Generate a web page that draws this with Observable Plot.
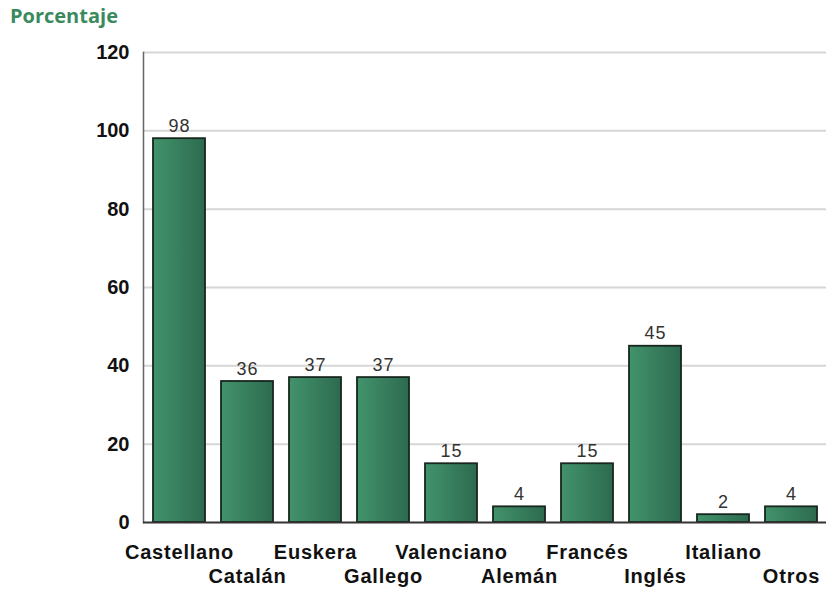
<!DOCTYPE html>
<html>
<head>
<meta charset="utf-8">
<script src="https://cdn.jsdelivr.net/npm/d3@7"></script>
<script src="https://cdn.jsdelivr.net/npm/@observablehq/plot@0.6"></script>
<style>
  body { margin: 0; background: #fff; }
  #title { font-family: "Open Sans", sans-serif; font-weight: 700; font-size: 20px; color: #3a8a5e; height: 32px; line-height: 32px; padding-left: 10px; }
  #chart svg g[aria-label="x-axis tick label"] text { letter-spacing: 0.8px; }
  #chart svg g.vals text { letter-spacing: 1px; }
</style>
</head>
<body>
<div id="title">Porcentaje</div>
<div id="chart"></div>
<script>
const languages = ["Castellano", "Catalán", "Euskera", "Gallego", "Valenciano", "Alemán", "Francés", "Inglés", "Italiano", "Otros"];
const percentages = [98, 36, 37, 37, 15, 4, 15, 45, 2, 4];
const yTicks = [0, 20, 40, 60, 80, 100, 120];

const data = languages.map((lang, i) => ({lang, value: percentages[i]}));
const firstRow = languages.filter((_, i) => i % 2 === 0);
const secondRow = languages.filter((_, i) => i % 2 === 1);

const labelFont = {fontSize: 20, fontWeight: "bold", fill: "#111"};

const plot = Plot.plot({
  width: 826,
  height: 560,
  marginTop: 20,
  marginBottom: 70,
  marginLeft: 143,
  marginRight: 0,
  style: {fontFamily: "'Liberation Sans', Arial, sans-serif", background: "#fff", overflow: "visible"},
  x: {domain: languages, paddingInner: 0.24, paddingOuter: 0.12, label: null},
  y: {domain: [0, 120], label: null},
  marks: [
    Plot.gridY(yTicks.slice(1), {stroke: "#d6d6d6", strokeOpacity: 1, strokeWidth: 2}),
    Plot.barY(data, {x: "lang", y: "value", fill: "url(#barGrad)", stroke: "#18261e", strokeWidth: 1.8}),
    Plot.text(data, {x: "lang", y: "value", text: d => String(d.value), dy: -7, lineAnchor: "bottom", fontSize: 18, fill: "#333", className: "vals"}),
    Plot.frame({anchor: "left", stroke: "#666", strokeWidth: 1.5}),
    Plot.ruleY([0], {stroke: "#333", strokeWidth: 2}),
    Plot.axisY(yTicks, {tickSize: 0, tickPadding: 14, fontSize: 20, fontWeight: "bold", fill: "#111", label: null}),
    Plot.axisX(firstRow, {tickSize: 0, tickPadding: 22, label: null, ...labelFont}),
    Plot.axisX(secondRow, {tickSize: 0, tickPadding: 46, label: null, ...labelFont})
  ]
});

const svg = d3.select(plot);
const defs = svg.insert("defs", ":first-child");
const grad = defs.append("linearGradient").attr("id", "barGrad").attr("x1", "0").attr("x2", "1").attr("y1", "0").attr("y2", "0");
grad.append("stop").attr("offset", "0%").attr("stop-color", "#42936c");
grad.append("stop").attr("offset", "100%").attr("stop-color", "#2d6a4f");

document.getElementById("chart").appendChild(plot);
</script>
</body>
</html>
